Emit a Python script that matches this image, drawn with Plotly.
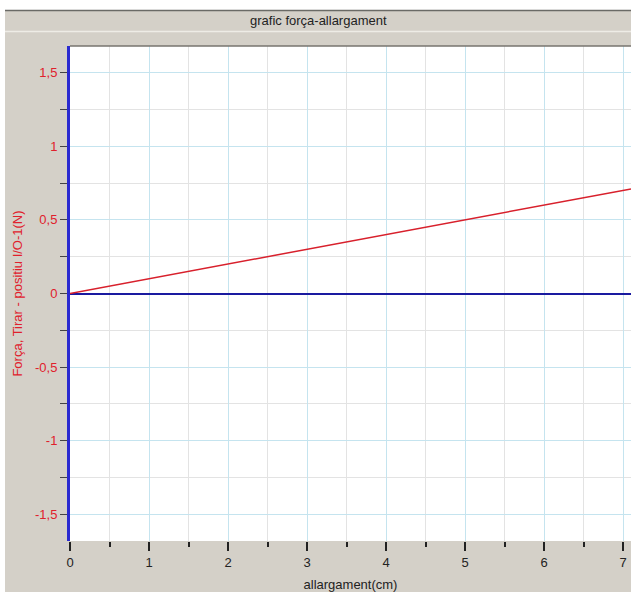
import plotly.graph_objects as go

# Data
x_vals = [0, 1, 2, 3, 4, 5, 6, 7, 7.1]
force_vals = [0.0, 0.1, 0.2, 0.3, 0.4, 0.5, 0.6, 0.7, 0.71]
x_ticks = [0, 1, 2, 3, 4, 5, 6, 7]
y_ticks = [-1.5, -1, -0.5, 0, 0.5, 1, 1.5]
y_tick_labels = ["-1,5", "-1", "-0,5", "0", "0,5", "1", "1,5"]

W, H = 631, 592
L, R, T, B = 70, 0, 46, 51
pw, ph = W - L - R, H - T - B

def px(x):
    return (x - L) / pw

def py(y):
    return (H - B - y) / ph

fig = go.Figure()

fig.add_trace(go.Scatter(x=x_vals, y=force_vals, mode="lines",
                         line=dict(color="#d8202c", width=1.5),
                         showlegend=False, hoverinfo="skip"))

gray = "#d4d0c8"
fig.update_layout(
    width=W, height=H,
    margin=dict(l=L, r=R, t=T, b=B),
    paper_bgcolor=gray,
    plot_bgcolor="white",
    font=dict(family="Liberation Sans, Arial, sans-serif", size=12, color="#222"),
    showlegend=False,
    xaxis=dict(
        range=[0, 7.1], tickvals=x_ticks, ticktext=[str(t) for t in x_ticks],
        ticks="outside", ticklen=9, tickwidth=1.5, tickcolor="#222",
        showgrid=True, gridcolor="#c5e4ef", gridwidth=1,
        minor=dict(dtick=0.5, showgrid=True, gridcolor="#e3e3e3",
                   ticks="outside", ticklen=5, tickwidth=1.5, tickcolor="#222"),
        zeroline=False, showline=False,
        tickfont=dict(size=13, color="#222"),
        title=dict(text="allargament(cm)", standoff=11, font=dict(size=13, color="#222")),
        fixedrange=True,
    ),
    yaxis=dict(
        range=[-1.68, 1.68], tickvals=y_ticks, ticktext=y_tick_labels,
        ticks="outside", ticklen=7, tickwidth=1, tickcolor="#444",
        showgrid=True, gridcolor="#c5e4ef", gridwidth=1,
        minor=dict(dtick=0.25, showgrid=True, gridcolor="#e3e3e3",
                   ticks="outside", ticklen=7, tickwidth=1, tickcolor="#444"),
        zeroline=True, zerolinecolor="#1a1aa0", zerolinewidth=1.5,
        showline=True, linecolor="#2a2ad0", linewidth=3,
        tickfont=dict(size=13, color="#e0202c"),
        title=dict(text="Força, Tirar - positiu I/O-1(N)", standoff=10,
                   font=dict(size=13, color="#e0202c")),
        fixedrange=True,
    ),
    shapes=[
        dict(type="rect", xref="paper", yref="paper", x0=px(0), x1=px(W + 5),
             y0=py(10), y1=py(-5), fillcolor="white", line=dict(width=0), layer="below"),
        dict(type="rect", xref="paper", yref="paper", x0=px(-5), x1=px(5),
             y0=py(H + 5), y1=py(-5), fillcolor="white", line=dict(width=0), layer="below"),
        dict(type="line", xref="paper", yref="paper", x0=px(5), x1=px(W + 5),
             y0=py(10.5), y1=py(10.5), line=dict(color="#6a6a66", width=1.5)),
        dict(type="line", xref="paper", yref="paper", x0=px(5), x1=px(W + 5),
             y0=py(31.5), y1=py(31.5), line=dict(color="#eeece6", width=1.5)),
        dict(type="line", xref="paper", yref="paper", x0=0, x1=1,
             y0=1, y1=1, line=dict(color="#77756f", width=1.5)),
    ],
    annotations=[
        dict(text="grafic força-allargament", xref="paper", yref="paper",
             x=px(318), y=py(21), showarrow=False,
             font=dict(size=13, color="#222"), xanchor="center", yanchor="middle"),
    ],
)

fig.write_html("out.html", config={"displayModeBar": False},
               post_script="document.body.style.margin='0';")
